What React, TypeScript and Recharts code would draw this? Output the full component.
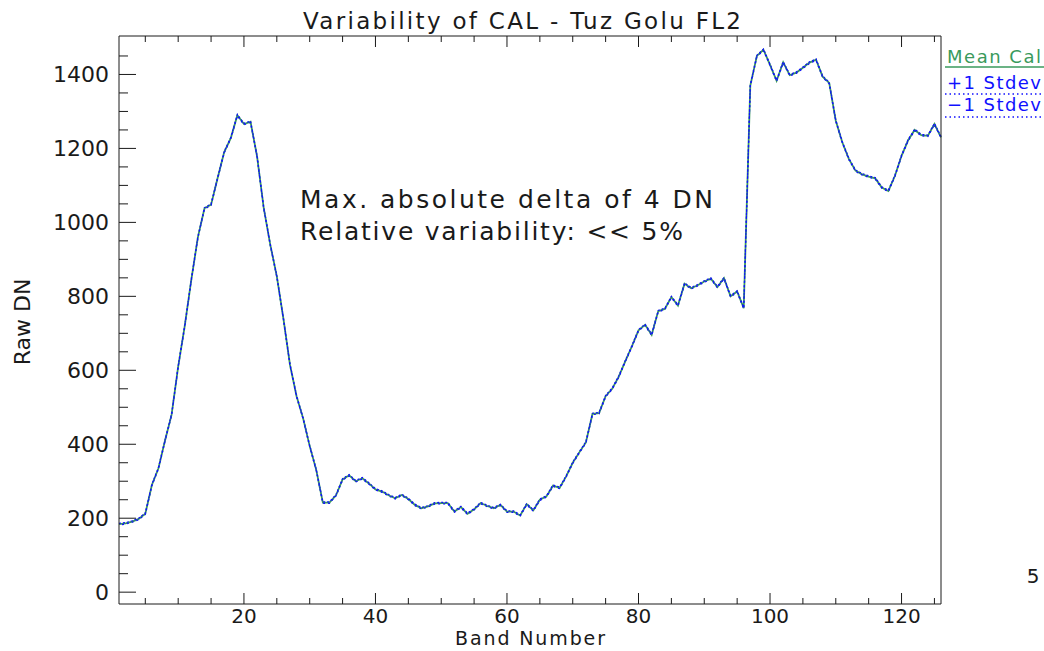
import React from 'react';
import { LineChart, Line, XAxis, YAxis } from 'recharts';

const BANDS = [
  1, 2, 3, 4, 5, 6, 7, 8, 9, 10, 11, 12, 13, 14, 15, 16, 17, 18, 19, 20,
  21, 22, 23, 24, 25, 26, 27, 28, 29, 30, 31, 32, 33, 34, 35, 36, 37, 38, 39, 40,
  41, 42, 43, 44, 45, 46, 47, 48, 49, 50, 51, 52, 53, 54, 55, 56, 57, 58, 59, 60,
  61, 62, 63, 64, 65, 66, 67, 68, 69, 70, 71, 72, 73, 74, 75, 76, 77, 78, 79, 80,
  81, 82, 83, 84, 85, 86, 87, 88, 89, 90, 91, 92, 93, 94, 95, 96, 97, 98, 99, 100,
  101, 102, 103, 104, 105, 106, 107, 108, 109, 110, 111, 112, 113, 114, 115, 116, 117, 118, 119, 120,
  121, 122, 123, 124, 125, 126,
];

const MEAN_CAL = [
  184, 186, 191, 198, 212, 290, 335, 410, 480, 610, 720, 845, 960, 1038, 1048, 1120, 1190, 1228, 1290, 1266,
  1272, 1178, 1040, 940, 854, 740, 615, 530, 470, 395, 330, 242, 242, 262, 305, 316, 300, 308, 294, 278,
  272, 262, 254, 263, 252, 236, 227, 232, 240, 241, 241, 218, 230, 212, 224, 241, 233, 227, 236, 218,
  218, 207, 238, 221, 250, 259, 288, 282, 313, 350, 378, 405, 482, 484, 530, 550, 583, 625, 665, 708,
  723, 696, 760, 766, 798, 775, 834, 822, 830, 840, 848, 825, 849, 800, 813, 768, 1370, 1450, 1467, 1426,
  1383, 1433, 1398, 1405, 1418, 1432, 1440, 1394, 1377, 1275, 1216, 1171, 1140, 1130, 1124, 1119, 1094, 1085, 1126, 1180,
  1222, 1250, 1236, 1234, 1266, 1230,
];

// band-to-band spread is tiny, the stdev curves sit right on the mean
const STDEV = 2;

const X_MAJOR = [20, 40, 60, 80, 100, 120];
const X_TICKS = [5, 10, 15, 20, 25, 30, 35, 40, 45, 50, 55, 60, 65, 70, 75, 80, 85, 90, 95, 100, 105, 110, 115, 120, 125];
const Y_MAJOR = [0, 200, 400, 600, 800, 1000, 1200, 1400];
const Y_TICKS = [
  0, 50, 100, 150, 200, 250, 300, 350, 400, 450, 500, 550, 600, 650, 700,
  750, 800, 850, 900, 950, 1000, 1050, 1100, 1150, 1200, 1250, 1300, 1350, 1400, 1450,
];

const data = BANDS.map((band, i) => ({
  band,
  mean: MEAN_CAL[i],
  plus: MEAN_CAL[i] + STDEV,
  minus: MEAN_CAL[i] - STDEV,
}));

const FONT = '"DejaVu Sans", sans-serif';
const INK = '#1a1a1a';
const GREEN = '#3a9a5c';
const BLUE = '#1010ff';

const W = 1044;
const H = 651;
// axes take 1px each, so the plot box lands on 119..941 x 36..604
const M = { top: 35, right: 102, bottom: 46, left: 118 };

const BottomTick = (props: any) => {
  const { x, y, payload } = props;
  const major = X_MAJOR.includes(payload.value);
  return (
    <g>
      <line x1={x} y1={y} x2={x} y2={y - (major ? 11 : 6)} stroke={INK} />
      {major && (
        <text x={x} y={y + 19} textAnchor="middle" fontSize={20} fontFamily={FONT} fill={INK}>
          {payload.value}
        </text>
      )}
    </g>
  );
};

const TopTick = (props: any) => {
  const { x, y, payload } = props;
  const major = X_MAJOR.includes(payload.value);
  return <line x1={x} y1={y} x2={x} y2={y + (major ? 11 : 6)} stroke={INK} />;
};

const LeftTick = (props: any) => {
  const { x, y, payload } = props;
  const major = Y_MAJOR.includes(payload.value);
  return (
    <g>
      <line x1={x} y1={y} x2={x + (major ? 17 : 9)} y2={y} stroke={INK} />
      {major && (
        <text x={x - 10} y={y + 8} textAnchor="end" fontSize={22} fontFamily={FONT} fill={INK}>
          {payload.value}
        </text>
      )}
    </g>
  );
};

const RightTick = (props: any) => {
  const { x, y, payload } = props;
  const major = Y_MAJOR.includes(payload.value);
  return <line x1={x} y1={y} x2={x - (major ? 17 : 9)} y2={y} stroke={INK} />;
};

export default function App() {
  return (
    <div style={{ position: 'absolute', left: 0, top: 0, width: W, height: H, background: '#fff' }}>
      <LineChart width={W} height={H} data={data} margin={M}>
        <XAxis
          xAxisId="bottom"
          dataKey="band"
          type="number"
          domain={[1, 126]}
          ticks={X_TICKS}
          interval={0}
          height={1}
          tickSize={0}
          tickMargin={0}
          tickLine={false}
          axisLine={{ stroke: INK }}
          tick={BottomTick}
        />
        <XAxis
          xAxisId="top"
          orientation="top"
          dataKey="band"
          type="number"
          domain={[1, 126]}
          ticks={X_TICKS}
          interval={0}
          height={1}
          tickSize={0}
          tickMargin={0}
          tickLine={false}
          axisLine={{ stroke: INK }}
          tick={TopTick}
        />
        <YAxis
          yAxisId="left"
          type="number"
          domain={[-32, 1504]}
          ticks={Y_TICKS}
          interval={0}
          width={1}
          tickSize={0}
          tickMargin={0}
          tickLine={false}
          axisLine={{ stroke: INK }}
          tick={LeftTick}
        />
        <YAxis
          yAxisId="right"
          orientation="right"
          type="number"
          domain={[-32, 1504]}
          ticks={Y_TICKS}
          interval={0}
          width={1}
          tickSize={0}
          tickMargin={0}
          tickLine={false}
          axisLine={{ stroke: INK }}
          tick={RightTick}
        />
        <Line
          xAxisId="bottom"
          yAxisId="left"
          type="linear"
          dataKey="mean"
          stroke={GREEN}
          strokeWidth={1.8}
          dot={false}
          isAnimationActive={false}
        />
        <Line
          xAxisId="bottom"
          yAxisId="left"
          type="linear"
          dataKey="plus"
          stroke={BLUE}
          strokeWidth={1.2}
          strokeDasharray="2 2"
          dot={false}
          isAnimationActive={false}
        />
        <Line
          xAxisId="bottom"
          yAxisId="left"
          type="linear"
          dataKey="minus"
          stroke={BLUE}
          strokeWidth={1.2}
          strokeDasharray="2 3"
          strokeDashoffset={2}
          dot={false}
          isAnimationActive={false}
        />
      </LineChart>
      <svg
        width={W}
        height={H}
        style={{ position: 'absolute', left: 0, top: 0, pointerEvents: 'none' }}
        fontFamily={FONT}
      >
        <text x={522} y={29} textAnchor="middle" fontSize={23} fill={INK} textLength={438}>
          Variability of CAL - Tuz Golu FL2
        </text>
        <text x={300} y={208} fontSize={25} fill={INK} textLength={413}>
          Max. absolute delta of 4 DN
        </text>
        <text x={300} y={240} fontSize={25} fill={INK} textLength={383}>
          Relative variability: &lt;&lt; 5%
        </text>
        <text x={530} y={645} textAnchor="middle" fontSize={19} fill={INK} textLength={150}>
          Band Number
        </text>
        <text
          x={30}
          y={322}
          textAnchor="middle"
          fontSize={22}
          fill={INK}
          transform="rotate(-90 30 322)"
        >
          Raw DN
        </text>
        <text x={947} y={63} fontSize={18} fill={GREEN} textLength={94}>
          Mean Cal
        </text>
        <line x1={945} y1={67} x2={1044} y2={67} stroke={GREEN} strokeWidth={1.5} />
        <text x={947} y={89} fontSize={18} fill={BLUE} textLength={94}>
          +1 Stdev
        </text>
        <line x1={945} y1={94} x2={1044} y2={94} stroke={BLUE} strokeWidth={1.5} strokeDasharray="1.5 3" />
        <text x={947} y={111} fontSize={18} fill={BLUE} textLength={94}>
          −1 Stdev
        </text>
        <line x1={945} y1={117} x2={1044} y2={117} stroke={BLUE} strokeWidth={1.5} strokeDasharray="1.5 3" />
        <text x={1033} y={583} textAnchor="middle" fontSize={20} fill={INK}>
          5
        </text>
      </svg>
    </div>
  );
}
